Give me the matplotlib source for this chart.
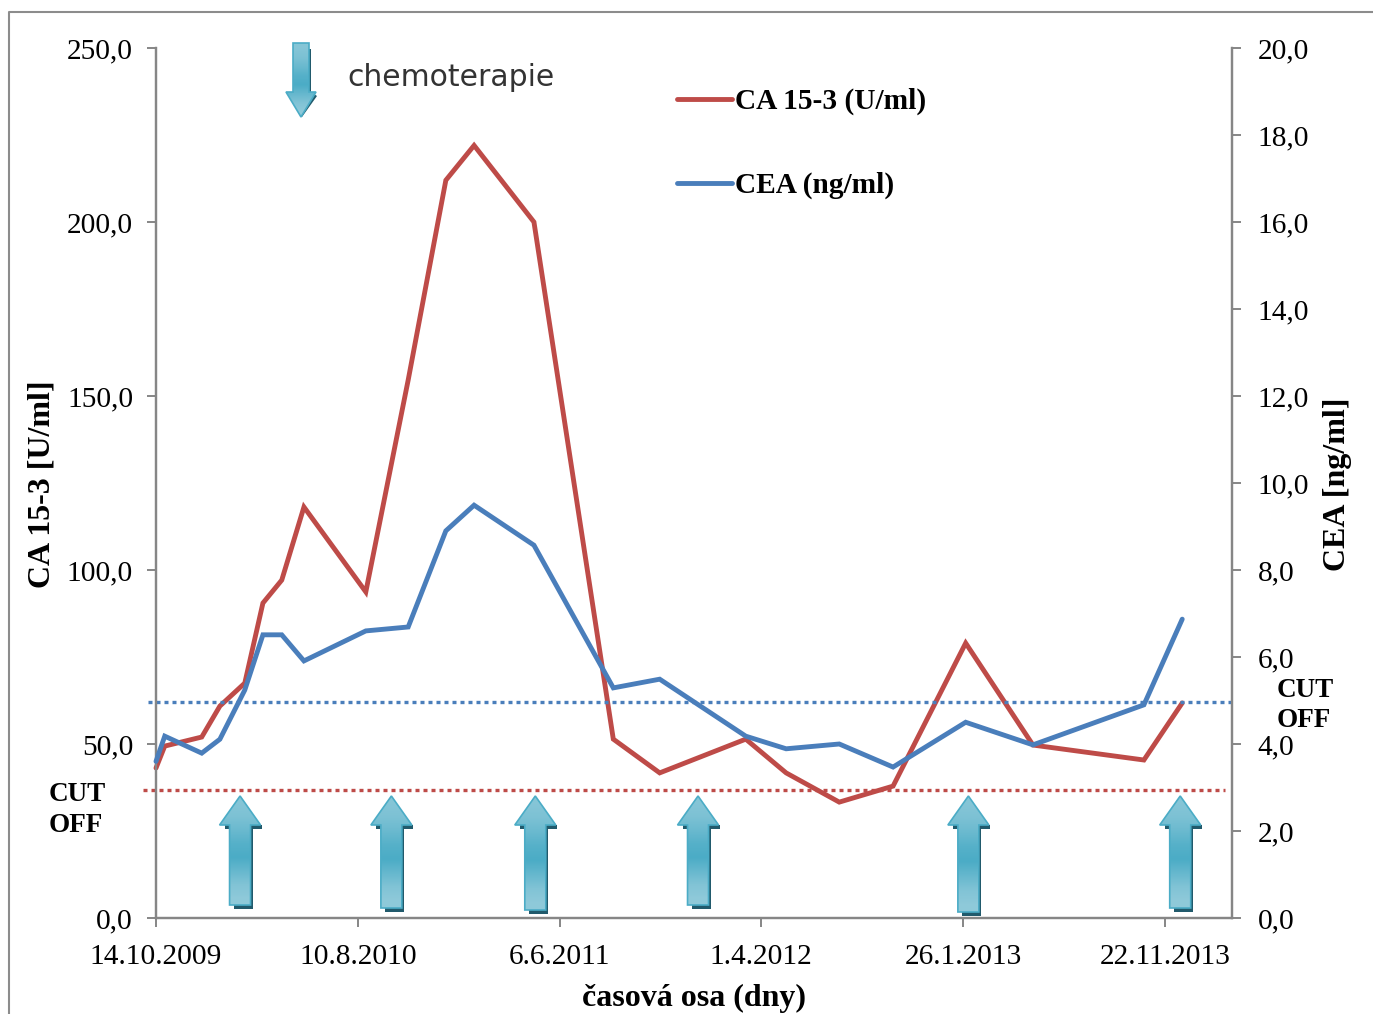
import numpy as np
import matplotlib
matplotlib.use('Agg')
import matplotlib.pyplot as plt
from matplotlib.patches import Polygon

plt.rcParams['font.family'] = ['Liberation Serif', 'DejaVu Serif']

# dny od 14.10.2009
days = [0, 13, 68, 95, 132, 159, 187, 220, 312, 375, 431, 473, 562, 680, 749, 877, 937, 1016, 1096, 1204, 1304, 1469, 1526]
ca153 = [43.1, 49.4, 52.0, 60.9, 67.5, 90.5, 97.1, 118.1, 93.7, 154.6, 212.0, 222.0, 200.0, 51.4, 41.7, 51.4, 41.7, 33.3, 37.9, 79.0, 49.7, 45.4, 61.8]
cea = [3.60, 4.18, 3.79, 4.11, 5.24, 6.51, 6.51, 5.91, 6.60, 6.69, 8.90, 9.49, 8.57, 5.29, 5.49, 4.18, 3.89, 4.00, 3.47, 4.50, 3.98, 4.90, 6.87]
x_ticks = [0, 300, 600, 900, 1200, 1500]
x_labels = ['14.10.2009', '10.8.2010', '6.6.2011', '1.4.2012', '26.1.2013', '22.11.2013']
cut_ca = 36.8
cut_cea = 4.96
chemo_days = [125, 350, 564, 806, 1208, 1523]
chemo_bottom = [905, 908, 910, 905, 912, 908]

RED = '#BE4B48'
BLUE = '#4A7EBB'
GRAY = '#868686'
FS = 21.2

W, H = 1373, 1014
fig = plt.figure(figsize=(W / 100, H / 100), dpi=100)
ax = fig.add_axes([156 / W, 1 - 918 / H, (1232 - 156) / W, (918 - 48) / H])
ax2 = ax.twinx()

ax.plot(days, ca153, color=RED, lw=3.5, solid_joinstyle='miter', solid_capstyle='round', clip_on=False, zorder=3)
ax2.plot(days, cea, color=BLUE, lw=3.5, solid_joinstyle='miter', solid_capstyle='round', clip_on=False, zorder=3)
ax.plot([-19, 1590], [cut_ca, cut_ca], color=RED, lw=2.4, ls=(0, (1.2, 1.2)), clip_on=False)
ax2.plot([-12, 1600], [cut_cea, cut_cea], color=BLUE, lw=2.4, ls=(0, (1.2, 1.2)), clip_on=False)

ax.set_xlim(0, 1600)
ax.set_ylim(0, 250)
ax2.set_ylim(0, 20)
ax.set_xticks(x_ticks)
ax.set_xticklabels(x_labels)
ax.set_yticks(np.arange(0, 251, 50))
ax.set_yticklabels([f'{v:.1f}'.replace('.', ',') for v in np.arange(0, 251, 50)])
ax2.set_yticks(np.arange(0, 21, 2))
ax2.set_yticklabels([f'{v:.1f}'.replace('.', ',') for v in np.arange(0, 21, 2)])

for a in (ax, ax2):
    a.spines['top'].set_visible(False)
    for s in ('left', 'right', 'bottom'):
        a.spines[s].set_color(GRAY)
        a.spines[s].set_linewidth(1.6)
    a.tick_params(axis='both', colors=GRAY, labelcolor='black', labelsize=FS, width=1.4, length=6.5)
ax.tick_params(axis='y', pad=10)
ax2.tick_params(axis='y', pad=12)
ax.tick_params(axis='x', pad=12)

# vrstva pres celou stranku, souradnice v pixelech
over = fig.add_axes([0, 0, 1, 1], facecolor='none')
over.set_xlim(0, W)
over.set_ylim(H, 0)
over.axis('off')
over.plot([9, 9, W], [H, 11.5, 11.5], color='#8c8c8c', lw=1.5)

grad = np.array([[0.65], [0.55], [0.35], [0.12], [0.0], [0.3], [0.6], [0.75]])
cmap = matplotlib.colors.LinearSegmentedColormap.from_list('chemo', ['#4BACC6', '#A5D3E0'])


def arrow(cx, top, bottom, up=True, hw=20.5, sw=10.5, head=29):
    if up:
        pts = [(cx, top), (cx + hw, top + head), (cx + sw, top + head), (cx + sw, bottom), (cx - sw, bottom), (cx - sw, top + head), (cx - hw, top + head)]
        dark = [(cx - hw + 5, top + head), (cx + hw + 1, top + head), (cx + hw + 1, top + head + 4), (cx + sw + 2, top + head + 4), (cx + sw + 2, bottom + 4), (cx - sw + 4, bottom + 4), (cx - sw + 4, top + head + 4), (cx - hw + 5, top + head + 4)]
    else:
        pts = [(cx, bottom), (cx + hw, bottom - head), (cx + sw, bottom - head), (cx + sw, top), (cx - sw, top), (cx - sw, bottom - head), (cx - hw, bottom - head)]
        dark = [(cx + 1, bottom), (cx + hw + 1, bottom - head + 4), (cx + sw + 2, bottom - head), (cx + sw + 2, top + 6), (cx, top + 6), (cx, bottom - 8)]
    over.add_patch(Polygon(dark, closed=True, fc='#215A6C', ec='none', zorder=4))
    im = over.imshow(grad, cmap=cmap, vmin=0, vmax=1, extent=[cx - hw, cx + hw, bottom, top], aspect='auto', zorder=5, interpolation='bilinear')
    body = Polygon(pts, closed=True, fc='none', ec='#4BACC6', lw=1.2, zorder=6)
    over.add_patch(body)
    im.set_clip_path(body)


for d, b in zip(chemo_days, chemo_bottom):
    px = ax.transData.transform((d, 0))[0]
    arrow(px, 796, b)
# sipka v legende
arrow(301, 43, 117, up=False, hw=15, sw=8, head=25)
over.set_xlim(0, W)
over.set_ylim(H, 0)
over.set_aspect('auto')

over.text(347, 77, 'chemoterapie', family='DejaVu Sans', fontsize=21.5, color='#333333', va='center', ha='left')
over.plot([677, 732], [99, 99], color=RED, lw=3.5, solid_capstyle='round')
over.plot([677, 732], [183, 183], color=BLUE, lw=3.5, solid_capstyle='round')
over.text(735, 101, 'CA 15-3 (U/ml)', fontsize=FS, fontweight='bold', va='center')
over.text(735, 185, 'CEA (ng/ml)', fontsize=FS, fontweight='bold', va='center')
over.text(49, 810, 'CUT\nOFF', fontsize=19.5, fontweight='bold', va='center', ha='left', linespacing=1.3)
over.text(1277, 705.5, 'CUT\nOFF', fontsize=19.5, fontweight='bold', va='center', ha='left', linespacing=1.3)
over.text(42, 484, 'CA 15-3 [U/ml]', fontsize=23, fontweight='bold', rotation=90, va='center', ha='center')
over.text(1338, 484, 'CEA [ng/ml]', fontsize=23, fontweight='bold', rotation=90, va='center', ha='center')
over.text(694, 998.5, 'časová osa (dny)', fontsize=23, fontweight='bold', va='center', ha='center')

fig.savefig('out.png', dpi=100, facecolor='white')
